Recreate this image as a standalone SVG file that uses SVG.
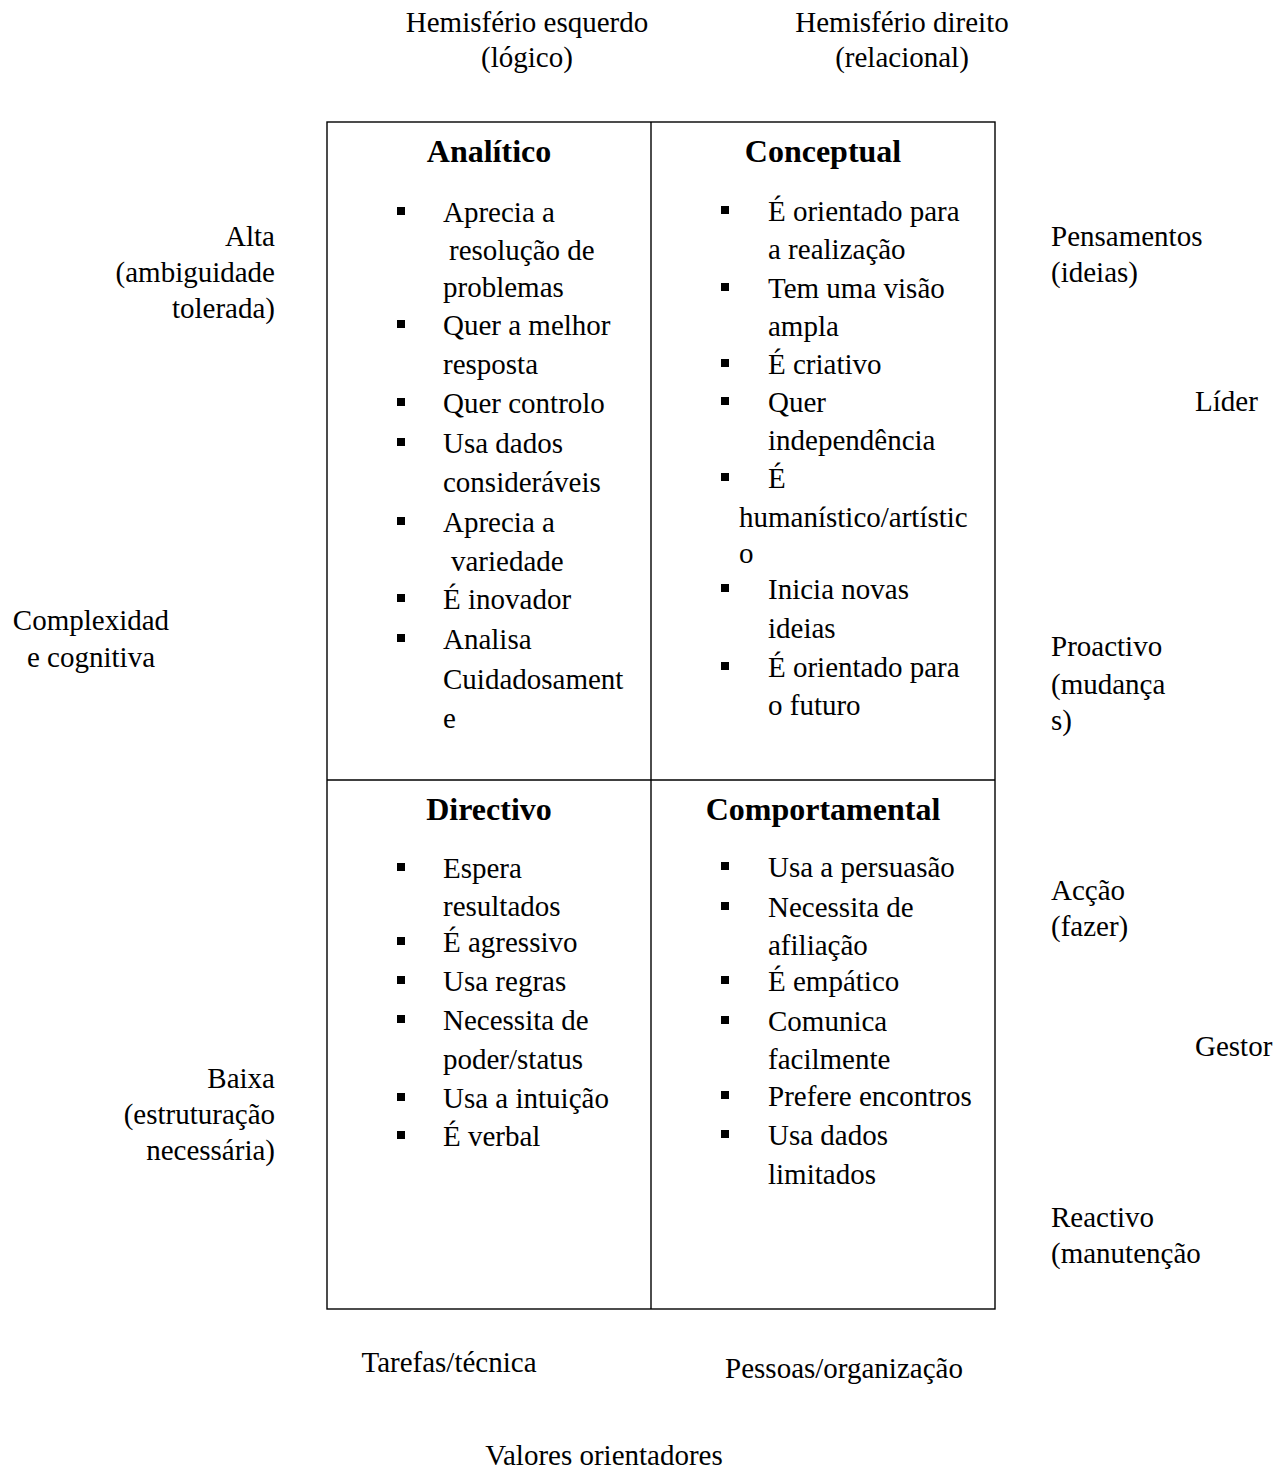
<svg xmlns="http://www.w3.org/2000/svg" width="1279" height="1470" viewBox="0 0 1279 1470">
<style>
text{font-family:"Liberation Serif","Times New Roman",serif;font-size:29px;fill:#000}
.h{font-weight:bold;font-size:32px;text-anchor:middle}
.c{text-anchor:middle}
.r{text-anchor:end}
.b{fill:#000}
.ln{stroke:#000;stroke-width:1.4;fill:none}
</style>
<rect width="1279" height="1470" fill="#fff"/>
<g id="grid">
<rect class="ln" x="327" y="122" width="668" height="1187"/>
<line class="ln" x1="651" y1="122" x2="651" y2="1309"/>
<line class="ln" x1="327" y1="780" x2="995" y2="780"/>
</g>
<g id="analitico">
<text class="h" x="489" y="162">Analítico</text>
<rect class="b" x="397" y="207" width="8" height="8"/><text x="443" y="222">Aprecia a</text>
<text x="449" y="260">resolução de</text>
<text x="443" y="297">problemas</text>
<rect class="b" x="397" y="320" width="8" height="8"/><text x="443" y="335">Quer a melhor</text>
<text x="443" y="374">resposta</text>
<rect class="b" x="397" y="398" width="8" height="8"/><text x="443" y="413">Quer controlo</text>
<rect class="b" x="397" y="438" width="8" height="8"/><text x="443" y="453">Usa dados</text>
<text x="443" y="492">consideráveis</text>
<rect class="b" x="397" y="517" width="8" height="8"/><text x="443" y="532">Aprecia a</text>
<text x="451" y="571">variedade</text>
<rect class="b" x="397" y="594" width="8" height="8"/><text x="443" y="609">É inovador</text>
<rect class="b" x="397" y="634" width="8" height="8"/><text x="443" y="649">Analisa</text>
<text x="443" y="689">Cuidadosament</text>
<text x="443" y="728">e</text>
</g>
<g id="conceptual">
<text class="h" x="823" y="162">Conceptual</text>
<rect class="b" x="721" y="206" width="8" height="8"/><text x="768" y="221">É orientado para</text>
<text x="768" y="259">a realização</text>
<rect class="b" x="721" y="283" width="8" height="8"/><text x="768" y="298">Tem uma visão</text>
<text x="768" y="336">ampla</text>
<rect class="b" x="721" y="359" width="8" height="8"/><text x="768" y="374">É criativo</text>
<rect class="b" x="721" y="397" width="8" height="8"/><text x="768" y="412">Quer</text>
<text x="768" y="450">independência</text>
<rect class="b" x="721" y="473" width="8" height="8"/><text x="768" y="488">É</text>
<text x="739" y="527">humanístico/artístic</text>
<text x="739" y="563">o</text>
<rect class="b" x="721" y="584" width="8" height="8"/><text x="768" y="599">Inicia novas</text>
<text x="768" y="638">ideias</text>
<rect class="b" x="721" y="662" width="8" height="8"/><text x="768" y="677">É orientado para</text>
<text x="768" y="715">o futuro</text>
</g>
<g id="directivo">
<text class="h" x="489" y="820">Directivo</text>
<rect class="b" x="397" y="863" width="8" height="8"/><text x="443" y="878">Espera</text>
<text x="443" y="916">resultados</text>
<rect class="b" x="397" y="937" width="8" height="8"/><text x="443" y="952">É agressivo</text>
<rect class="b" x="397" y="976" width="8" height="8"/><text x="443" y="991">Usa regras</text>
<rect class="b" x="397" y="1015" width="8" height="8"/><text x="443" y="1030">Necessita de</text>
<text x="443" y="1069">poder/status</text>
<rect class="b" x="397" y="1093" width="8" height="8"/><text x="443" y="1108">Usa a intuição</text>
<rect class="b" x="397" y="1131" width="8" height="8"/><text x="443" y="1146">É verbal</text>
</g>
<g id="comportamental">
<text class="h" x="823" y="820">Comportamental</text>
<rect class="b" x="721" y="862" width="8" height="8"/><text x="768" y="877">Usa a persuasão</text>
<rect class="b" x="721" y="902" width="8" height="8"/><text x="768" y="917">Necessita de</text>
<text x="768" y="955">afiliação</text>
<rect class="b" x="721" y="976" width="8" height="8"/><text x="768" y="991">É empático</text>
<rect class="b" x="721" y="1016" width="8" height="8"/><text x="768" y="1031">Comunica</text>
<text x="768" y="1069">facilmente</text>
<rect class="b" x="721" y="1091" width="8" height="8"/><text x="768" y="1106">Prefere encontros</text>
<rect class="b" x="721" y="1130" width="8" height="8"/><text x="768" y="1145">Usa dados</text>
<text x="768" y="1184">limitados</text>
</g>
<g id="labels">
<text class="c" x="527" y="32">Hemisfério esquerdo</text>
<text class="c" x="527" y="67">(lógico)</text>
<text class="c" x="902" y="32">Hemisfério direito</text>
<text class="c" x="902" y="67">(relacional)</text>
<text class="r" x="275" y="246">Alta</text>
<text class="r" x="275" y="282">(ambiguidade</text>
<text class="r" x="275" y="318">tolerada)</text>
<text class="c" x="91" y="630">Complexidad</text>
<text class="c" x="91" y="667">e cognitiva</text>
<text class="r" x="275" y="1088">Baixa</text>
<text class="r" x="275" y="1124">(estruturação</text>
<text class="r" x="275" y="1160">necessária)</text>
<text x="1051" y="246">Pensamentos</text>
<text x="1051" y="282">(ideias)</text>
<text x="1195" y="411">Líder</text>
<text x="1051" y="656">Proactivo</text>
<text x="1051" y="694">(mudança</text>
<text x="1051" y="730">s)</text>
<text x="1051" y="900">Acção</text>
<text x="1051" y="936">(fazer)</text>
<text x="1195" y="1056">Gestor</text>
<text x="1051" y="1227">Reactivo</text>
<text x="1051" y="1263">(manutenção</text>
<text class="c" x="449" y="1372">Tarefas/técnica</text>
<text class="c" x="844" y="1378">Pessoas/organização</text>
<text class="c" x="604" y="1465">Valores orientadores</text>
</g>
</svg>
